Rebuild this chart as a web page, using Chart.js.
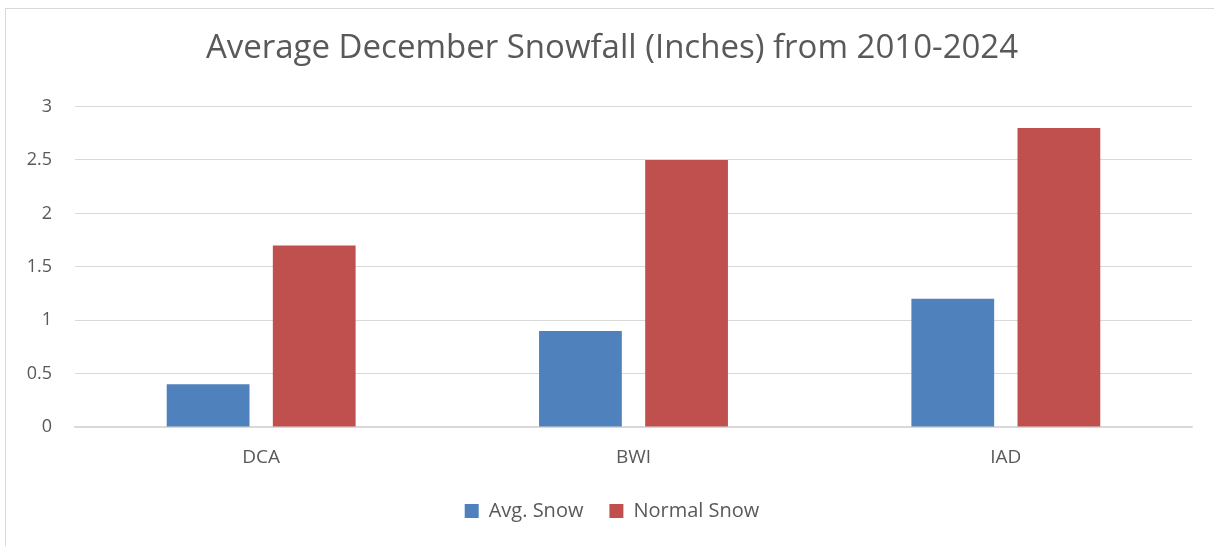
<!DOCTYPE html>
<html>
<head>
<meta charset="utf-8">
<script src="https://cdn.jsdelivr.net/npm/chart.js@4/dist/chart.umd.min.js"></script>
<style>
  html, body { margin: 0; padding: 0; background: #fff; overflow: hidden; }
  .frame { position: absolute; left: 5px; top: 8px; width: 1400px; height: 700px; border: 1px solid #d9d9d9; }
  canvas { position: absolute; left: 0; top: 0; }
</style>
</head>
<body>
<div class="frame"></div>
<canvas id="snowChart" width="1214" height="546"></canvas>
<script>
const airports = ["DCA", "BWI", "IAD"];
const avgSnow = [0.4, 0.9, 1.2];
const normalSnow = [1.7, 2.5, 2.8];
const seriesNames = ["Avg. Snow", "Normal Snow"];
const yTickLabels = ["0", "0.5", "1", "1.5", "2", "2.5", "3"];
const titleText = "Average December Snowfall (Inches) from 2010-2024";

const textColor = "#595959";
const fontFamily = "'Open Sans', sans-serif";

const ctx = document.getElementById("snowChart").getContext("2d");
const myChart = new Chart(ctx, {
  type: "bar",
  data: {
    labels: airports,
    datasets: [
      {
        label: seriesNames[0],
        data: avgSnow,
        backgroundColor: "#4F81BD",
        categoryPercentage: 0.57,
        barPercentage: 0.78,
      },
      {
        label: seriesNames[1],
        data: normalSnow,
        backgroundColor: "#C0504D",
        categoryPercentage: 0.57,
        barPercentage: 0.78,
      },
    ],
  },
  options: {
    responsive: false,
    animation: false,
    devicePixelRatio: 1,
    layout: {
      padding: { left: 10, right: 0, top: 0, bottom: 15 },
    },
    plugins: {
      title: {
        display: true,
        text: titleText,
        color: textColor,
        font: { family: fontFamily, size: 33, weight: "normal" },
        padding: { top: 29, bottom: 38 },
      },
      legend: {
        position: "bottom",
        labels: {
          color: textColor,
          font: { family: fontFamily, size: 20 },
          boxWidth: 14,
          boxHeight: 14,
          padding: 26,
        },
      },
      tooltip: { enabled: false },
    },
    scales: {
      x: {
        grid: { display: false, drawTicks: false },
        border: { display: true, color: "#d9d9d9", width: 1.5 },
        ticks: {
          color: textColor,
          font: { family: fontFamily, size: 19 },
          padding: 19,
        },
        afterFit: (scale) => {
          scale.height = 48;
        },
      },
      y: {
        min: 0,
        max: 3,
        grid: { color: "#d9d9d9", drawTicks: false },
        border: { display: false },
        ticks: {
          stepSize: 0.5,
          color: textColor,
          font: { family: fontFamily, size: 18 },
          padding: 23,
          callback: (value, index) => yTickLabels[index],
        },
        afterFit: (scale) => {
          scale.width = 65;
        },
      },
      // empty right-hand axis, just keeps the plot off the right edge
      yRight: {
        position: "right",
        min: 0,
        max: 3,
        grid: { display: false, drawTicks: false },
        border: { display: false },
        ticks: { display: false },
        afterFit: (scale) => {
          scale.width = 22;
        },
      },
    },
  },
});
</script>
</body>
</html>
